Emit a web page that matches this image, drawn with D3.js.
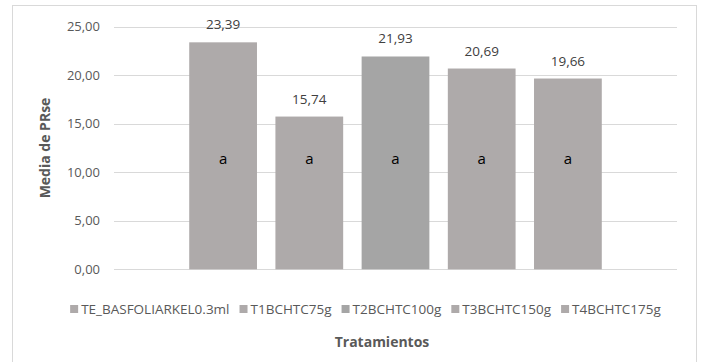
<!DOCTYPE html>
<html>
<head>
<meta charset="utf-8">
<script src="https://cdn.jsdelivr.net/npm/d3@7"></script>
<style>
  body { margin: 0; background: #fff; }
  text { font-family: "Open Sans", sans-serif; }
</style>
</head>
<body>
<svg id="chart" width="701" height="362"></svg>
<script>
// data
var treatments = ["TE_BASFOLIARKEL0.3ml", "T1BCHTC75g", "T2BCHTC100g", "T3BCHTC150g", "T4BCHTC175g"];
var means = [23.39, 15.74, 21.93, 20.69, 19.66];
var letters = ["a", "a", "a", "a", "a"];
var barColors = ["#AEAAAA", "#AEAAAA", "#A5A5A5", "#AEAAAA", "#AEAAAA"];
var yTicks = [0, 5, 10, 15, 20, 25];

var svg = d3.select("#chart");
var fmt = function(v) { return d3.format(".2f")(v).replace(".", ","); };

// outer chart frame
svg.append("rect")
  .attr("x", 12.5).attr("y", 5.5)
  .attr("width", 684).attr("height", 370)
  .attr("fill", "#fff").attr("stroke", "#d9d9d9");

var y = d3.scaleLinear().domain([0, 25]).range([269.3, 26.7]);
var x = d3.scaleBand().domain(treatments).range([180, 611])
  .paddingInner(0.214).paddingOuter(0.107);

// gridlines
svg.append("g").selectAll("line")
  .data(yTicks).enter().append("line")
  .attr("x1", 114).attr("x2", 677)
  .attr("y1", function(d) { return Math.round(y(d)) + 0.5; })
  .attr("y2", function(d) { return Math.round(y(d)) + 0.5; })
  .attr("stroke", "#d9d9d9").attr("stroke-width", 1);

// y axis labels
var yAxis = d3.axisLeft(y).tickValues(yTicks).tickFormat(fmt).tickSize(0).tickPadding(0);
var gy = svg.append("g").attr("transform", "translate(100,0)").call(yAxis);
gy.select(".domain").remove();
gy.selectAll("text").attr("fill", "#595959").style("font-size", "13px")
  .style("font-family", "'Open Sans', sans-serif");

// bars
svg.append("g").selectAll("rect")
  .data(means).enter().append("rect")
  .attr("x", function(d, i) { return x(treatments[i]); })
  .attr("y", function(d) { return y(d); })
  .attr("width", x.bandwidth())
  .attr("height", function(d) { return y(0) - y(d); })
  .attr("fill", function(d, i) { return barColors[i]; });

// value labels
svg.append("g").selectAll("text")
  .data(means).enter().append("text")
  .attr("x", function(d, i) { return x(treatments[i]) + x.bandwidth() / 2; })
  .attr("y", function(d) { return y(d) - 13; })
  .attr("text-anchor", "middle")
  .attr("fill", "#404040").style("font-size", "13.5px")
  .text(fmt);

// significance letters
svg.append("g").selectAll("text")
  .data(letters).enter().append("text")
  .attr("x", function(d, i) { return x(treatments[i]) + x.bandwidth() / 2; })
  .attr("y", 164)
  .attr("text-anchor", "middle")
  .attr("fill", "#000").style("font-size", "15px")
  .text(function(d) { return d; });

// axis titles
svg.append("text")
  .attr("transform", "translate(50,148) rotate(-90)")
  .attr("text-anchor", "middle")
  .attr("fill", "#595959").style("font-size", "14px").style("font-weight", "bold")
  .text("Media de PRse");

svg.append("text")
  .attr("x", 382).attr("y", 347)
  .attr("text-anchor", "middle")
  .attr("fill", "#595959").style("font-size", "14px").style("font-weight", "bold")
  .text("Tratamientos");

// legend
var legend = svg.append("g");
var items = legend.selectAll("g").data(treatments).enter().append("g");
items.append("rect")
  .attr("width", 8).attr("height", 8).attr("y", -9)
  .attr("fill", function(d, i) { return barColors[i]; });
items.append("text")
  .attr("x", 11).attr("y", 0)
  .attr("fill", "#595959").style("font-size", "13.5px")
  .text(function(d) { return d; });
var pos = 0;
items.each(function() {
  var w = d3.select(this).select("text").node().getComputedTextLength();
  d3.select(this).attr("transform", "translate(" + pos + ",0)");
  pos += 11 + w + 10;
});
legend.attr("transform", "translate(" + (365.5 - (pos - 10) / 2) + ",314)");
</script>
</body>
</html>
